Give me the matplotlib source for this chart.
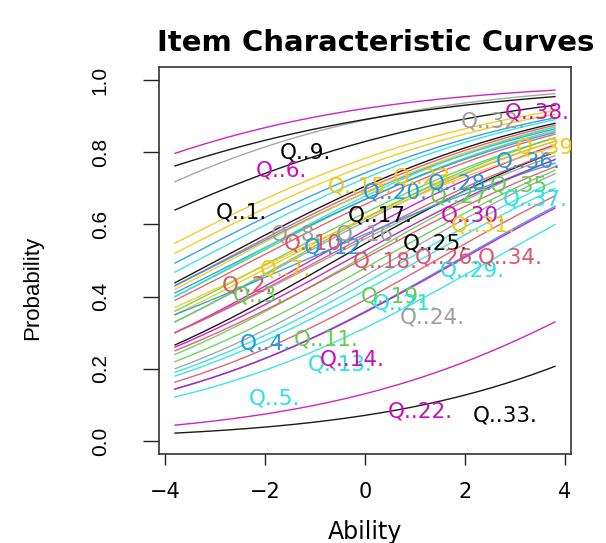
import numpy as np
import matplotlib
matplotlib.use("Agg")
from matplotlib import pyplot as plt

# item parameters (2PL): discrimination and difficulty
disc = [0.265, 0.293, 0.292, 0.286, 0.313, 0.287, 0.287, 0.302, 0.246, 0.287,
        0.294, 0.281, 0.311, 0.311, 0.286, 0.302, 0.316, 0.314, 0.318, 0.281,
        0.315, 0.312, 0.293, 0.286, 0.295, 0.296, 0.311, 0.316, 0.292, 0.313,
        0.290, 0.320, 0.323, 0.294, 0.311, 0.240, 0.303, 0.304, 0.265]
diff = [-5.97, -2.84, -2.41, -3.70, 2.51, -8.56, -4.47, -6.90, -8.53, -2.24,
        -1.84, -2.51, 1.08, -1.08, -4.08, -1.46, -0.59, 1.41, -0.17, -2.80,
        0.80, 6.07, -2.70, -0.84, -2.96, -0.09, 0.27, 1.84, -3.36, 1.89,
        -1.67, 0.53, 7.96, -0.92, -1.52, -1.22, -2.46, -0.36, -1.79]

item_names = ["Q..%d." % (i + 1) for i in range(39)]

# where each item label sits (ability, probability)
label_x = [-2.48, -2.36, -2.14, -2.00, -1.82, -1.68, -1.60, -1.38, -1.20, -0.98,
           -0.78, -0.58, -0.50, -0.26, -0.10, 0.06, 0.30, 0.40, 0.56, 0.60,
           0.80, 1.10, 1.20, 1.34, 1.40, 1.64, 1.94, 1.90, 2.14, 2.16,
           2.36, 2.56, 2.80, 2.90, 3.14, 3.26, 3.40, 3.44, 3.66]
label_y = [0.634, 0.432, 0.402, 0.271, 0.119, 0.748, 0.476, 0.573, 0.798, 0.548,
           0.280, 0.537, 0.211, 0.227, 0.706, 0.573, 0.626, 0.496, 0.399, 0.687,
           0.382, 0.083, 0.729, 0.341, 0.546, 0.507, 0.676, 0.712, 0.471, 0.626,
           0.598, 0.886, 0.072, 0.507, 0.709, 0.773, 0.668, 0.911, 0.814]

# R 4 default palette, recycled over the items
palette = ["#000000", "#DF536B", "#61D04F", "#2297E6",
           "#28E2E5", "#CD0BBC", "#F5C710", "#9E9E9E"]

narrow = ["Liberation Sans Narrow", "Liberation Sans", "DejaVu Sans"]

fig = plt.figure(figsize=(6.06, 5.43), dpi=100)
ax = fig.add_axes([159 / 606, 89 / 543, 412 / 606, 387 / 543])

theta = np.linspace(-3.8, 3.8, 200)
for i in range(len(disc)):
    col = palette[i % len(palette)]
    prob = 1.0 / (1.0 + np.exp(-disc[i] * (theta - diff[i])))
    ax.plot(theta, prob, color=col, linewidth=1.0, alpha=0.9)
    ax.text(label_x[i], label_y[i], item_names[i], color=col, fontsize=15.5,
            ha="center", va="center", clip_on=True)

ax.set_xlim(-4.12, 4.12)
ax.set_ylim(-0.036, 1.036)

ax.set_xticks([-4, -2, 0, 2, 4])
ax.set_yticks([0.0, 0.2, 0.4, 0.6, 0.8, 1.0])
ax.set_yticklabels(["0.0", "0.2", "0.4", "0.6", "0.8", "1.0"])
for lab in ax.get_yticklabels():
    lab.set_rotation(90)
    lab.set_va("center")
    lab.set_family(narrow)
    lab.set_fontsize(15)
for lab in ax.get_xticklabels():
    lab.set_fontsize(15)

ax.tick_params(axis="y", length=11.5, width=1.0, pad=24, color="#222222")
ax.tick_params(axis="x", length=8, width=1.0, pad=12, color="#222222")

for sp in ax.spines.values():
    sp.set_linewidth(1.2)
    sp.set_color("#333333")

fig.text(376 / 606, 1 - 43 / 543, "Item Characteristic Curves",
         fontsize=21, fontweight="bold", ha="center", va="center")
fig.text(365 / 606, 1 - 532 / 543, "Ability", fontsize=17,
         ha="center", va="center")
fig.text(33 / 606, 1 - 288 / 543, "Probability", fontsize=16, rotation=90,
         family=narrow, ha="center", va="center")

plt.savefig("out.png", dpi=100)
